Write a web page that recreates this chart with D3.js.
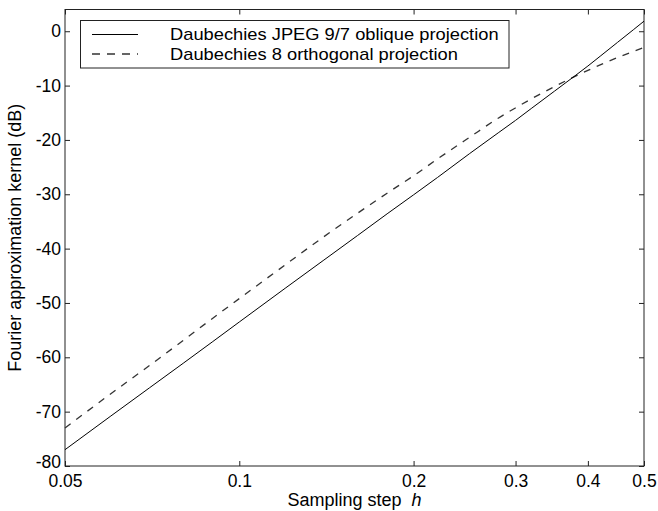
<!DOCTYPE html>
<html>
<head>
<meta charset="utf-8">
<script src="https://cdn.jsdelivr.net/npm/d3@7"></script>
<style>
  html, body { margin: 0; padding: 0; background: #fff; }
  svg { display: block; font-family: "Liberation Sans", Arial, Helvetica, sans-serif; }
</style>
</head>
<body>
<svg id="chart" width="658" height="511"></svg>
<script>
// Sampling steps h (log axis)
const steps = [0.05, 0.06, 0.07, 0.08, 0.09, 0.1, 0.12, 0.14, 0.16, 0.18, 0.2, 0.22,
               0.25, 0.28, 0.3, 0.32, 0.35, 0.38, 0.4, 0.42, 0.45, 0.48, 0.5];
// Fourier approximation kernel, dB
const jpeg97Oblique = [-77.0, -70.8, -65.6, -61.1, -57.1, -53.5, -47.3, -42.1, -37.6, -33.6, -30.1, -26.9,
                       -22.5, -18.7, -16.4, -14.15, -11.05, -8.2, -6.4, -4.6, -2.05, 0.33, 1.85];
const daub8Orthogonal = [-73.0, -66.7, -61.5, -56.9, -52.8, -49.2, -43.0, -37.8, -33.5, -29.8, -26.6, -23.5,
                         -19.5, -16.0, -14.1, -12.4, -10.2, -8.3, -7.2, -6.2, -4.85, -3.7, -3.0];
const xTicks = [0.05, 0.1, 0.2, 0.3, 0.4, 0.5];
const yTicks = [-80, -70, -60, -50, -40, -30, -20, -10, 0];
const seriesNames = ["Daubechies JPEG 9/7 oblique projection", "Daubechies 8 orthogonal projection"];

const svg = d3.select("#chart");
const L = 65, R = 644, T = 9.5, B = 466;

const x = d3.scaleLog().domain([0.05, 0.5]).range([L, R]);
const y = d3.scaleLinear().domain([-80, 4]).range([B, T]);

const fmt = d => String(d);

// Axes with inward ticks
const gB = svg.append("g").attr("transform", `translate(0,${B})`)
  .call(d3.axisBottom(x).tickValues(xTicks).tickFormat(fmt).tickSize(-5).tickPadding(9));
const gT = svg.append("g").attr("transform", `translate(0,${T})`)
  .call(d3.axisTop(x).tickValues(xTicks).tickFormat("").tickSize(-5));
const gL = svg.append("g").attr("transform", `translate(${L},0)`)
  .call(d3.axisLeft(y).tickValues(yTicks).tickFormat(fmt).tickSize(-5).tickPadding(4));
const gR = svg.append("g").attr("transform", `translate(${R},0)`)
  .call(d3.axisRight(y).tickValues(yTicks).tickFormat("").tickSize(-5));

[gB, gT, gL, gR].forEach(g => {
  g.select(".domain").remove();
  g.selectAll(".tick line").attr("stroke", "#222").attr("stroke-width", 1);
  g.selectAll(".tick text").attr("fill", "#000").style("font-size", "17.5px")
    .style("font-family", "'Liberation Sans', Arial, sans-serif");
});
// lift the lowest y label a touch so it clears the first x label
gL.selectAll(".tick text").filter(d => d === -80).attr("dy", "0.1em");

// Plot frame
svg.append("rect")
  .attr("x", L).attr("y", T).attr("width", R - L).attr("height", B - T)
  .attr("fill", "none").attr("stroke", "#222").attr("stroke-width", 1);

const line = d3.line()
  .x((d, i) => x(steps[i]))
  .y(d => y(d))
  .curve(d3.curveMonotoneX);

svg.append("path").datum(daub8Orthogonal)
  .attr("d", line).attr("fill", "none")
  .attr("stroke", "#333").attr("stroke-width", 1.3).attr("stroke-dasharray", "7,7");

svg.append("path").datum(jpeg97Oblique)
  .attr("d", line).attr("fill", "none")
  .attr("stroke", "#000").attr("stroke-width", 1);

// Legend
const lg = svg.append("g");
lg.append("rect").attr("x", 80.5).attr("y", 20.5).attr("width", 428.5).attr("height", 47.5)
  .attr("fill", "#fff").attr("stroke", "#222").attr("stroke-width", 1);
const legendRows = [
  { name: seriesNames[0], dash: null, color: "#000", w: 1, yy: 34.5 },
  { name: seriesNames[1], dash: "8,7", color: "#333", w: 1.3, yy: 54 }
];
legendRows.forEach(r => {
  lg.append("line").attr("x1", 92).attr("x2", 138).attr("y1", r.yy).attr("y2", r.yy)
    .attr("stroke", r.color).attr("stroke-width", r.w)
    .attr("stroke-dasharray", r.dash);
  const t = lg.append("text").attr("x", 170).attr("y", r.yy).attr("dy", "0.35em")
    .style("font-size", "17px").attr("fill", "#000").text(r.name);
  // widen glyphs slightly so the rows keep their full run
  const w = t.node().getComputedTextLength();
  t.attr("textLength", w * 18.3 / 17).attr("lengthAdjust", "spacingAndGlyphs");
});

// Axis titles
svg.append("text")
  .attr("transform", `translate(21,${(T + B) / 2}) rotate(-90)`)
  .attr("text-anchor", "middle").style("font-size", "18px").attr("fill", "#000")
  .text("Fourier approximation kernel (dB)");

const xl = svg.append("text")
  .attr("x", (L + R) / 2).attr("y", 506)
  .attr("text-anchor", "middle").style("font-size", "18px").attr("fill", "#000");
xl.append("tspan").text("Sampling step\u00a0\u00a0");
xl.append("tspan").style("font-style", "italic").text("h");
</script>
</body>
</html>
